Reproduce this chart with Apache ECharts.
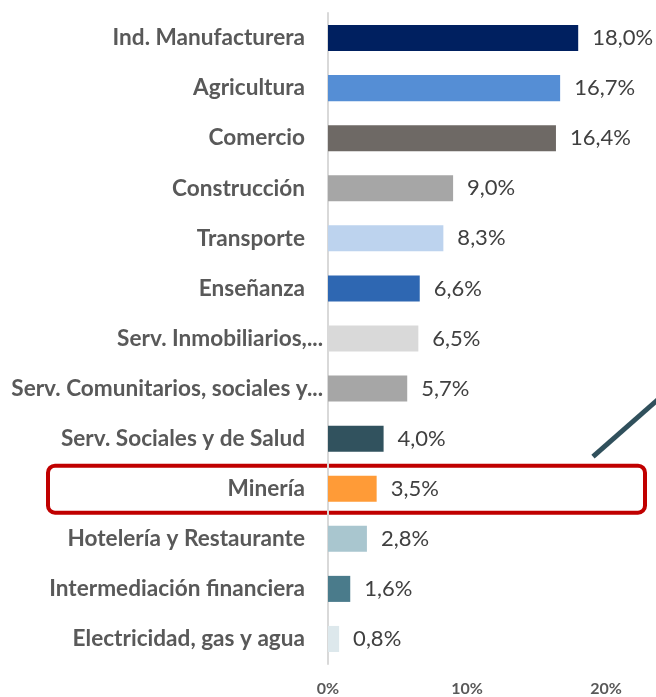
<!DOCTYPE html>
<html>
<head>
<meta charset="utf-8">
<script src="https://cdn.jsdelivr.net/npm/echarts@6/dist/echarts.min.js"></script>
<style>
  html, body { margin: 0; padding: 0; background: #fff; }
  #chart { width: 656px; height: 697px; }
</style>
</head>
<body>
<div id="chart"></div>
<script>
const categories = [
  'Ind. Manufacturera', 'Agricultura', 'Comercio', 'Construcción', 'Transporte',
  'Enseñanza', 'Serv. Inmobiliarios,...', 'Serv. Comunitarios, sociales y...',
  'Serv. Sociales y de Salud', 'Minería', 'Hotelería y Restaurante',
  'Intermediación financiera', 'Electricidad, gas y agua'
]
const shares = [18.0, 16.7, 16.4, 9.0, 8.3, 6.6, 6.5, 5.7, 4.0, 3.5, 2.8, 1.6, 0.8]
const barColors = [
  '#002060', '#558ED5', '#6E6965', '#A6A6A6', '#BDD3EE', '#2E67B2', '#D9D9D9',
  '#A6A6A6', '#31525E', '#FF9B37', '#A9C6CF', '#4A7B8B', '#DDE8EC'
]
const xTicks = [0, 10, 20]
const highlight = 'Minería'

const chart = echarts.init(document.getElementById('chart'))
chart.setOption({
  animation: false,
  grid: { left: 328, right: 50, top: 13, bottom: 32 },
  xAxis: {
    type: 'value',
    min: xTicks[0],
    max: xTicks[xTicks.length - 1],
    interval: 10,
    splitLine: { show: false },
    axisLine: { show: false },
    axisTick: { show: false },
    axisLabel: {
      margin: 17,
      formatter: v => v + '%',
      color: '#595959',
      fontFamily: 'Lato',
      fontWeight: 'bold',
      fontSize: 16
    }
  },
  yAxis: {
    type: 'category',
    inverse: true,
    data: categories,
    axisTick: { show: false },
    axisLine: { show: true, lineStyle: { color: '#D9D9D9', width: 2 } },
    axisLabel: {
      margin: 5,
      color: '#595959',
      fontFamily: 'Lato',
      fontWeight: 'bold',
      fontSize: 22.6,
      // truncated names run closer to the axis, like the original
      formatter: v => v.endsWith('...') ? '{e|' + v + '}' : '{n|' + v + '}',
      rich: {
        n: { fontFamily: 'Lato', fontWeight: 'bold', fontSize: 22.6, color: '#595959', padding: [0, 18, 0, 0] },
        e: { fontFamily: 'Lato', fontWeight: 'bold', fontSize: 22.6, color: '#595959' }
      }
    }
  },
  series: [{
    type: 'bar',
    barWidth: '52%',
    data: shares.map((v, i) => ({ value: v, itemStyle: { color: barColors[i] } })),
    label: {
      show: true,
      position: 'right',
      distance: 14,
      formatter: p => p.value.toFixed(1).replace('.', ',') + '%',
      color: '#404040',
      fontFamily: 'Lato',
      fontSize: 22
    }
  }]
})

// callout box around the highlighted row and the pointer line
const idx = categories.indexOf(highlight)
const yc = chart.convertToPixel({ yAxisIndex: 0 }, idx)
chart.setOption({
  graphic: [
    {
      type: 'rect',
      shape: { x: 48, y: yc - 23, width: 597, height: 47, r: 7 },
      style: { fill: 'none', stroke: '#C00000', lineWidth: 4 }
    },
    {
      type: 'line',
      shape: { x1: 593, y1: yc - 32, x2: 660, y2: yc - 91 },
      style: { stroke: '#30505C', lineWidth: 5 }
    }
  ]
})
</script>
</body>
</html>
